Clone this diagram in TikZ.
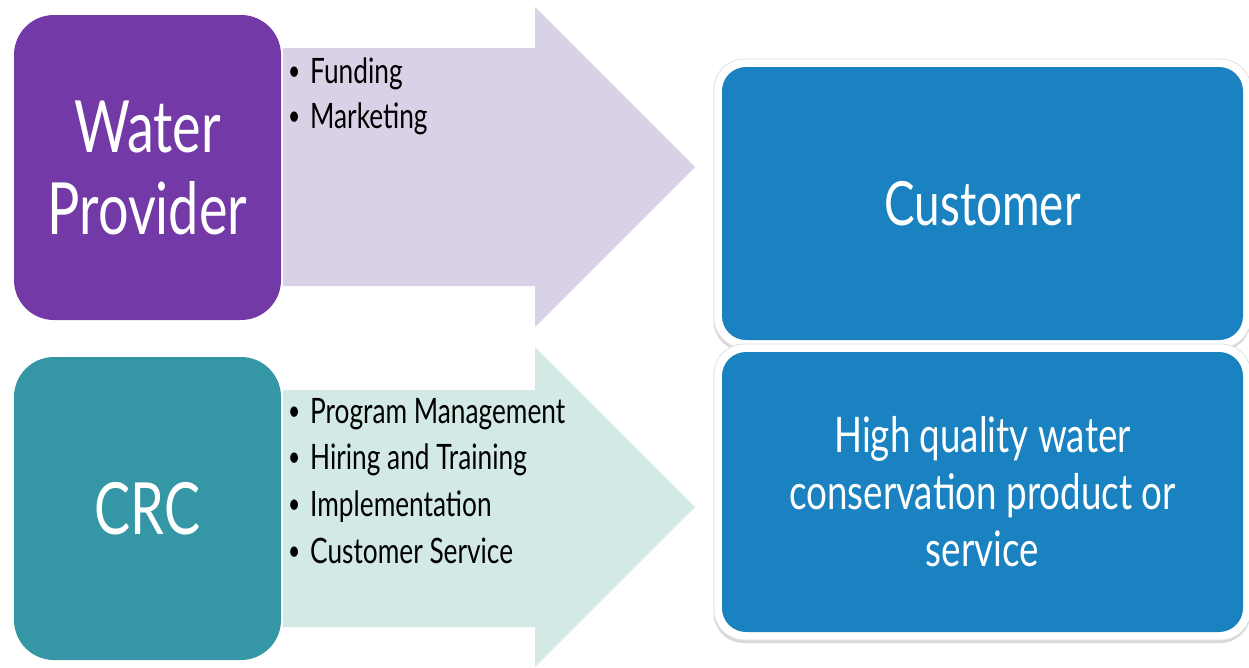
\documentclass[tikz,border=0pt]{standalone}
\usepackage{fontspec}
\setmainfont[FakeStretch=0.75]{Lato}
\usetikzlibrary{shadows}
\definecolor{wpPurple}{RGB}{115,57,166}
\definecolor{wpLav}{RGB}{217,209,230}
\definecolor{crcTeal}{RGB}{53,151,165}
\definecolor{crcMint}{RGB}{210,233,229}
\definecolor{custBlue}{RGB}{26,130,192}
\tikzset{
  srcbox/.style={rounded corners=40pt, minimum width=267pt, inner sep=0pt, text=white, align=center,
     font=\fontsize{72}{82}\selectfont},
  frame/.style={rounded corners=30pt, fill=white, draw=black!12, line width=0.8pt, minimum width=537pt,
     inner sep=0pt, drop shadow={opacity=0.3, shadow xshift=-0.5pt, shadow yshift=-3pt}},
  outbox/.style={rounded corners=24pt, fill=custBlue, minimum width=521pt,
     inner sep=0pt, text=white, align=center},
  bullet/.style={anchor=base west, inner sep=0pt, font=\fontsize{35}{43}\selectfont},
}
\newcommand{\bul}[1]{\makebox[22pt][l]{\raisebox{3pt}{\scalebox{0.8}{\textbullet}}}#1}
\begin{document}
\begin{tikzpicture}[x=1pt,y=-1pt]
\useasboundingbox (0,0) rectangle (1249,667);
% arrows
\fill[wpLav] (283,48) -- (535,48) -- (535,7) -- (695,167) -- (535,327) -- (535,286) -- (283,286) -- cycle;
\fill[crcMint] (283,390) -- (535,390) -- (535,347) -- (695,507) -- (535,667) -- (535,627) -- (283,627) -- cycle;
% source boxes
\node[srcbox, fill=wpPurple, minimum height=305pt] (wp) at (147.5,167.5) {Water\\Provider};
\node[srcbox, fill=crcTeal, minimum height=303pt] (crc) at (147.5,508.5) {CRC};
% bullets
\node[bullet] (b1) at (288,83) {\bul{Funding}};
\node[bullet] (b2) at (288,128) {\bul{Marketing}};
\node[bullet] (c1) at (288,423) {\bul{Program Management}};
\node[bullet] (c2) at (288,469) {\bul{Hiring and Training}};
\node[bullet] (c3) at (288,516) {\bul{Implementation}};
\node[bullet] (c4) at (288,563) {\bul{Customer Service}};
% outcome boxes
\node[frame, minimum height=289pt] (custf) at (982.5,203.5) {};
\node[frame, minimum height=296pt] (prodf) at (982.5,492) {};
\node[outbox, minimum height=273pt, font=\fontsize{61}{70}\selectfont] (cust) at (custf.center) {Customer};
\node[outbox, minimum height=280pt, font=\fontsize{49}{57}\selectfont] (prod) at (prodf.center) {High quality water\\conservation product or\\service};
\end{tikzpicture}
\end{document}
